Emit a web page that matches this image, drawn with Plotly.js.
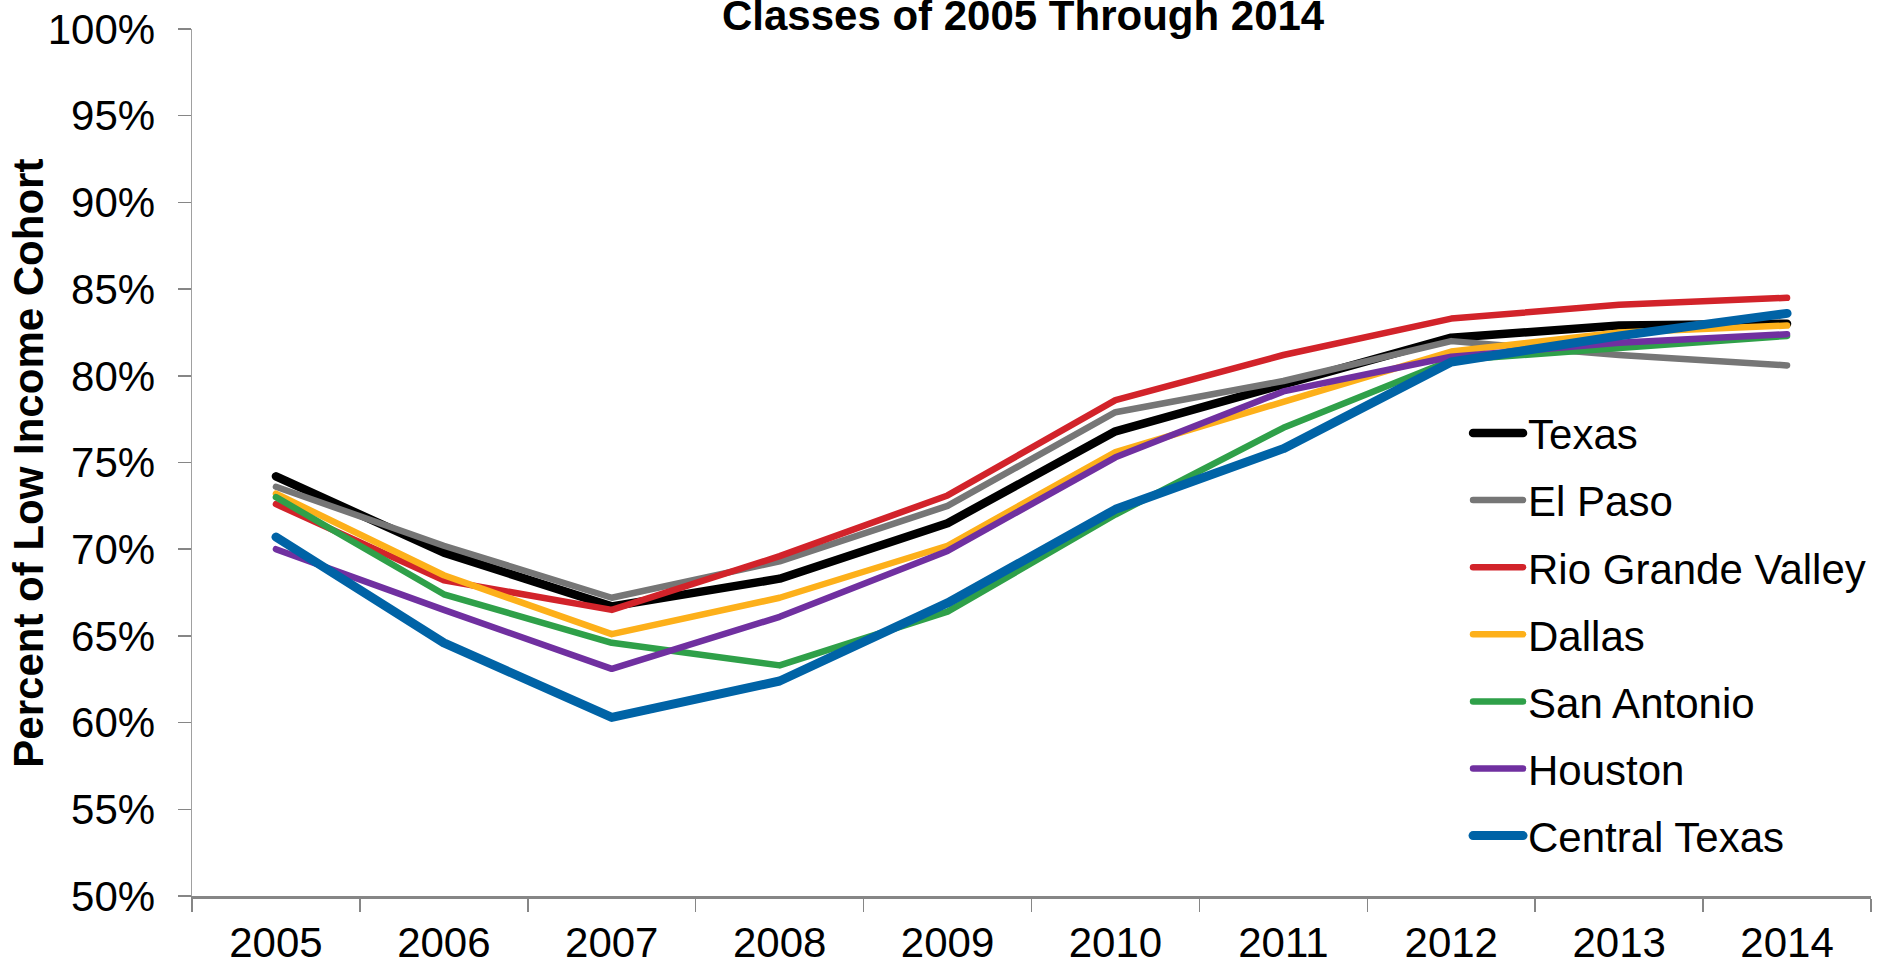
<!DOCTYPE html>
<html>
<head>
<meta charset="utf-8">
<script src="https://cdn.plot.ly/plotly-3.0.1.min.js"></script>
<style>
html,body{margin:0;padding:0;background:#fff;}
#chart{width:1878px;height:965px;}
.scatterlayer path.js-line, .legendlines path{stroke-linecap:round !important;stroke-linejoin:round !important;}
</style>
</head>
<body>
<div id="chart"></div>
<script>
const years = ["2005","2006","2007","2008","2009","2010","2011","2012","2013","2014"];
const texas        = [74.2, 69.8, 66.7, 68.3, 71.5, 76.8, 79.5, 82.2, 82.9, 83.0];
const elPaso       = [73.6, 70.2, 67.2, 69.3, 72.5, 77.9, 79.7, 82.0, 81.2, 80.6];
const rioGrande    = [72.6, 68.2, 66.5, 69.6, 73.1, 78.6, 81.2, 83.3, 84.1, 84.5];
const dallas       = [73.2, 68.5, 65.1, 67.2, 70.2, 75.6, 78.5, 81.4, 82.5, 82.9];
const sanAntonio   = [73.0, 67.4, 64.6, 63.3, 66.4, 72.0, 77.0, 80.9, 81.6, 82.3];
const houston      = [70.0, 66.5, 63.1, 66.1, 69.9, 75.3, 79.1, 81.1, 81.9, 82.4];
const centralTexas = [70.7, 64.6, 60.3, 62.4, 66.9, 72.3, 75.8, 80.8, 82.3, 83.6];
const seriesNames  = ["Texas","El Paso","Rio Grande Valley","Dallas","San Antonio","Houston","Central Texas"];
const seriesData   = [texas, elPaso, rioGrande, dallas, sanAntonio, houston, centralTexas];
const seriesColors = ["#000000","#767676","#D2232A","#FDB01A","#2FA049","#7030A0","#0063A6"];
const seriesWidths = [8.5, 6.5, 6.5, 6.5, 6.5, 6.5, 9];

const FONT = "Liberation Sans, Arial, sans-serif";

const traces = seriesNames.map((n, i) => ({
  type: "scatter",
  mode: "lines",
  name: n,
  x: years,
  y: seriesData[i],
  legendgroup: "g" + i,
  line: {color: seriesColors[i], width: seriesWidths[i]},
  hoverinfo: "skip"
}));

const layout = {
  width: 1878,
  height: 965,
  margin: {l: 192, r: 7, t: 29, b: 69},
  paper_bgcolor: "#ffffff",
  plot_bgcolor: "#ffffff",
  font: {family: FONT, size: 42, color: "#000000"},
  title: {
    text: "<b>Classes of 2005 Through 2014</b>",
    font: {family: FONT, size: 42, color: "#000000"},
    xref: "paper", x: 0.495, xanchor: "center",
    yref: "container", y: 0.984, yanchor: "middle"
  },
  showlegend: true,
  legend: {
    x: 0.760, xref: "paper", xanchor: "left",
    y: 0.573, yref: "paper", yanchor: "top",
    bgcolor: "rgba(0,0,0,0)",
    font: {family: FONT, size: 42, color: "#000000"},
    traceorder: "grouped",
    tracegroupgap: 9.5,
    itemwidth: 50
  },
  annotations: [{
    text: "<b>Percent of Low Income Cohort</b>",
    font: {family: FONT, size: 42, color: "#000000"},
    textangle: -90,
    xref: "paper", x: -0.0975, xanchor: "center",
    yref: "paper", y: 0.499, yanchor: "middle",
    showarrow: false
  }],
  xaxis: {
    type: "category",
    range: [-0.5, 9.5],
    tickson: "boundaries",
    ticks: "outside",
    ticklen: 13,
    tickcolor: "#868686",
    tickwidth: 1.5,
    ticklabelstandoff: 8,
    showline: true,
    linecolor: "#868686",
    linewidth: 2.5,
    showgrid: false,
    zeroline: false,
    tickfont: {family: FONT, size: 42, color: "#000000"},
    fixedrange: true
  },
  yaxis: {
    range: [50, 100],
    dtick: 5,
    ticksuffix: "%",
    ticks: "outside",
    ticklen: 13,
    tickcolor: "#868686",
    tickwidth: 1.5,
    ticklabelstandoff: 14,
    showline: true,
    linecolor: "#A0A0A0",
    linewidth: 1.5,
    showgrid: false,
    zeroline: false,
    tickfont: {family: FONT, size: 42, color: "#000000"},
    fixedrange: true
  }
};

Plotly.newPlot("chart", traces, layout, {displayModeBar: false, staticPlot: true});
</script>
</body>
</html>
